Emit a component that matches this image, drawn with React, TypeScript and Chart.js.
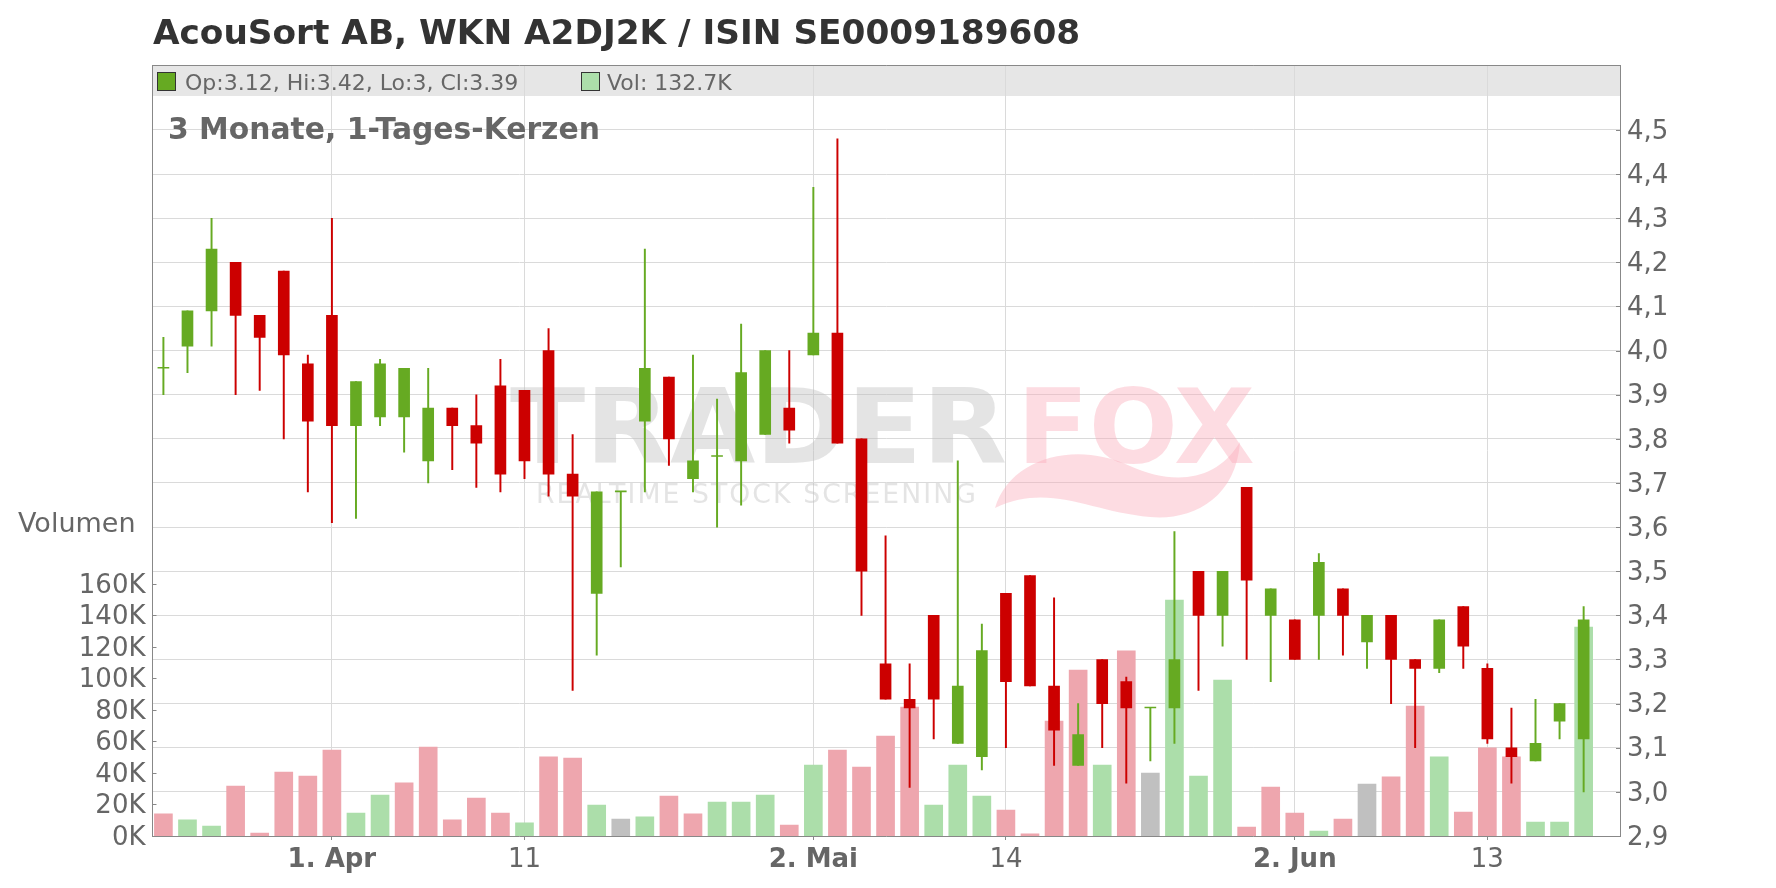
import React, { useEffect, useRef } from 'react';
import { Chart, registerables } from 'chart.js';

Chart.register(...registerables);

const FONT = '"DejaVu Sans", sans-serif';

const titleText = 'AcouSort AB, WKN A2DJ2K / ISIN SE0009189608';
const subtitleText = '3 Monate, 1-Tages-Kerzen';
const volumeAxisLabel = 'Volumen';

// daily candles (EUR)
const opens = [
  3.96, 4.01, 4.09, 4.20, 4.08, 4.18, 3.97, 4.08, 3.83, 3.85,
  3.85, 3.75, 3.87, 3.83, 3.92, 3.91, 4.00, 3.72, 3.45, 3.68,
  3.84, 3.94, 3.71, 3.76, 3.75, 3.81, 3.87, 3.99, 4.04, 3.80,
  3.29, 3.21, 3.40, 3.11, 3.08, 3.45, 3.49, 3.24, 3.06, 3.30,
  3.25, 3.19, 3.19, 3.50, 3.40, 3.69, 3.40, 3.39, 3.40, 3.46,
  3.34, 3.40, 3.30, 3.28, 3.42, 3.28, 3.10, 3.07, 3.16, 3.12,
];
const highs = [
  4.03, 4.09, 4.30, 4.20, 4.08, 4.18, 3.99, 4.30, 3.93, 3.98,
  3.96, 3.96, 3.87, 3.90, 3.98, 3.91, 4.05, 3.81, 3.68, 3.68,
  4.23, 3.94, 3.99, 3.89, 4.06, 4.00, 4.00, 4.37, 4.48, 3.80,
  3.58, 3.29, 3.40, 3.75, 3.38, 3.45, 3.49, 3.44, 3.20, 3.30,
  3.26, 3.19, 3.59, 3.50, 3.50, 3.69, 3.46, 3.39, 3.54, 3.46,
  3.40, 3.40, 3.30, 3.39, 3.42, 3.29, 3.19, 3.21, 3.20, 3.42,
];
const lows = [
  3.90, 3.95, 4.01, 3.90, 3.91, 3.80, 3.68, 3.61, 3.62, 3.83,
  3.77, 3.70, 3.73, 3.69, 3.68, 3.71, 3.67, 3.23, 3.31, 3.51,
  3.68, 3.74, 3.68, 3.60, 3.65, 3.81, 3.79, 3.99, 3.79, 3.40,
  3.21, 3.01, 3.12, 3.11, 3.05, 3.10, 3.24, 3.06, 3.06, 3.10,
  3.02, 3.07, 3.11, 3.23, 3.33, 3.30, 3.25, 3.30, 3.30, 3.31,
  3.28, 3.20, 3.10, 3.27, 3.28, 3.11, 3.02, 3.07, 3.12, 3.00,
];
const closes = [
  3.96, 4.09, 4.23, 4.08, 4.03, 3.99, 3.84, 3.83, 3.93, 3.97,
  3.96, 3.87, 3.83, 3.79, 3.72, 3.75, 3.72, 3.67, 3.68, 3.68,
  3.96, 3.80, 3.75, 3.76, 3.95, 4.00, 3.82, 4.04, 3.79, 3.50,
  3.21, 3.19, 3.21, 3.24, 3.32, 3.25, 3.24, 3.14, 3.13, 3.20,
  3.19, 3.19, 3.30, 3.40, 3.50, 3.48, 3.46, 3.30, 3.52, 3.40,
  3.40, 3.30, 3.28, 3.39, 3.33, 3.12, 3.08, 3.11, 3.20, 3.39,
];
// volume in thousands
const volumes = [
  14.0, 10.2, 6.3, 31.7, 1.9, 40.6, 38.1, 54.6, 14.6, 26.0,
  33.7, 56.5, 10.2, 24.1, 14.6, 8.3, 50.2, 49.5, 19.7, 10.8,
  12.1, 25.4, 14.0, 21.6, 21.6, 26.0, 7.0, 45.1, 54.6, 43.8,
  63.5, 81.9, 19.7, 45.1, 25.4, 16.5, 1.3, 73.0, 105.4, 45.1,
  117.5, 40.0, 149.8, 38.1, 99.0, 5.7, 31.1, 14.6, 3.2, 10.8,
  33.0, 37.5, 82.5, 50.2, 15.2, 55.9, 50.2, 8.9, 8.9, 132.7,
];
const closeBeforeFirst = 3.98;

const xTickIndex = [7, 15, 27, 35, 47, 55];
const xTickLabels = ['1. Apr', '11', '2. Mai', '14', '2. Jun', '13'];
const xTickBold = [true, false, true, false, true, false];
const priceTicks = [2.9, 3.0, 3.1, 3.2, 3.3, 3.4, 3.5, 3.6, 3.7, 3.8, 3.9, 4.0, 4.1, 4.2, 4.3, 4.4, 4.5];
const volumeTicks = [0, 20, 40, 60, 80, 100, 120, 140, 160];

const GREEN = '#66aa22';
const RED = '#cc0000';
const VOL_GREEN = '#acdeaa';
const VOL_RED = '#eea6ae';
const VOL_GRAY = '#c0c0c0';
const GRID = '#dadada';
const AXIS = '#888888';

function fitText(ctx: CanvasRenderingContext2D, text: string, x: number, y: number, width: number) {
  const w = ctx.measureText(text).width;
  ctx.save();
  ctx.translate(x, y);
  ctx.scale(width / w, 1);
  ctx.fillText(text, 0, 0);
  ctx.restore();
}

const decorPlugin = {
  id: 'decor',
  beforeDraw(chart: any) {
    const { ctx, chartArea: a } = chart;
    ctx.save();
    ctx.fillStyle = '#ffffff';
    ctx.fillRect(0, 0, chart.width, chart.height);
    ctx.fillStyle = '#e6e6e6';
    ctx.fillRect(a.left, a.top, a.right - a.left, 31);
    ctx.restore();
  },
  beforeDatasetsDraw(chart: any) {
    const { ctx } = chart;
    ctx.save();
    ctx.textBaseline = 'alphabetic';
    ctx.textAlign = 'left';
    ctx.font = `bold 103px ${FONT}`;
    ctx.fillStyle = 'rgba(190,190,190,0.42)';
    fitText(ctx, 'TRADER', 510, 463, 497);
    ctx.fillStyle = 'rgba(250,170,185,0.41)';
    fitText(ctx, 'FOX', 1017, 463, 238);
    // fox tail
    ctx.beginPath();
    ctx.moveTo(995, 508);
    ctx.bezierCurveTo(1010, 458, 1075, 440, 1130, 466);
    ctx.bezierCurveTo(1170, 484, 1215, 484, 1240, 442);
    ctx.bezierCurveTo(1236, 500, 1190, 521, 1150, 517);
    ctx.bezierCurveTo(1090, 512, 1050, 482, 995, 508);
    ctx.fill();
    ctx.font = `26px ${FONT}`;
    ctx.fillStyle = 'rgba(190,190,190,0.42)';
    (ctx as any).letterSpacing = '2px';
    fitText(ctx, 'REALTIME STOCK SCREENING', 536, 503, 442);
    ctx.restore();
  },
  afterDraw(chart: any) {
    const { ctx, chartArea: a } = chart;
    ctx.save();
    // frame
    ctx.strokeStyle = AXIS;
    ctx.lineWidth = 1;
    ctx.beginPath();
    ctx.moveTo(a.left, a.top + 0.5);
    ctx.lineTo(a.right, a.top + 0.5);
    ctx.moveTo(a.left, a.bottom + 0.5);
    ctx.lineTo(a.right + 0.5, a.bottom + 0.5);
    ctx.moveTo(a.left, a.top);
    ctx.lineTo(a.left, a.bottom + 1);
    ctx.moveTo(a.right + 0.5, a.top);
    ctx.lineTo(a.right + 0.5, a.bottom + 1);
    // inner ticks
    const yS = chart.scales.y;
    priceTicks.forEach((v) => {
      const py = Math.round(yS.getPixelForValue(v)) + 0.5;
      ctx.moveTo(a.right - 4, py);
      ctx.lineTo(a.right, py);
    });
    const vS = chart.scales.yv;
    volumeTicks.forEach((v) => {
      const py = Math.round(vS.getPixelForValue(v)) + 0.5;
      ctx.moveTo(a.left, py);
      ctx.lineTo(a.left + 4, py);
    });
    ctx.stroke();

    // title
    ctx.fillStyle = '#333333';
    ctx.font = `bold 34.3px ${FONT}`;
    ctx.textAlign = 'left';
    ctx.textBaseline = 'alphabetic';
    ctx.fillText(titleText, 153, 44);

    // subtitle
    ctx.fillStyle = '#666666';
    ctx.font = `bold 29.8px ${FONT}`;
    ctx.fillText(subtitleText, 168, 139);

    // legend row
    const n = closes.length - 1;
    ctx.font = `22px ${FONT}`;
    ctx.fillStyle = '#666666';
    ctx.fillText(`Op:${opens[n]}, Hi:${highs[n]}, Lo:${lows[n]}, Cl:${closes[n]}`, 185, 90);
    ctx.fillText(`Vol: ${volumes[n]}K`, 607, 90);
    ctx.strokeStyle = '#333333';
    ctx.fillStyle = GREEN;
    ctx.fillRect(157.5, 72.5, 18, 18);
    ctx.strokeRect(157.5, 72.5, 18, 18);
    ctx.fillStyle = VOL_GREEN;
    ctx.fillRect(581.5, 72.5, 18, 18);
    ctx.strokeRect(581.5, 72.5, 18, 18);

    // volume axis title
    ctx.fillStyle = '#666666';
    ctx.font = `27px ${FONT}`;
    ctx.fillText(volumeAxisLabel, 18, 532);
    ctx.restore();
  },
};

export default function App() {
  const ref = useRef<HTMLCanvasElement | null>(null);

  useEffect(() => {
    if (!ref.current) return;
    const idx = closes.map((_, i) => i);
    const up = idx.map((i) => closes[i] >= opens[i]);
    const candleColors = up.map((u) => (u ? GREEN : RED));
    const volColors = idx.map((i) => {
      const prev = i === 0 ? closeBeforeFirst : closes[i - 1];
      if (closes[i] > prev) return VOL_GREEN;
      if (closes[i] < prev) return VOL_RED;
      return VOL_GRAY;
    });

    const chart = new Chart(ref.current, {
      type: 'bar',
      data: {
        datasets: [
          {
            label: 'bodies',
            data: idx.map((i) => ({ x: i, y: [Math.min(opens[i], closes[i]), Math.max(opens[i], closes[i])] })) as any,
            backgroundColor: candleColors,
            barThickness: 11,
            minBarLength: 1,
            grouped: false,
            yAxisID: 'y',
            order: 1,
          } as any,
          {
            label: 'wicks',
            data: idx.map((i) => ({ x: i, y: [lows[i], highs[i]] })) as any,
            backgroundColor: candleColors,
            barThickness: 1.3,
            grouped: false,
            yAxisID: 'y',
            order: 2,
          } as any,
          {
            label: 'volume',
            data: idx.map((i) => ({ x: i, y: volumes[i] })) as any,
            backgroundColor: volColors,
            barThickness: 18,
            grouped: false,
            yAxisID: 'yv',
            order: 3,
          } as any,
        ],
      },
      options: {
        animation: false,
        responsive: false,
        devicePixelRatio: 1,
        layout: { padding: { top: 65, left: 0, right: 0, bottom: 0 } },
        plugins: {
          legend: { display: false },
          tooltip: { enabled: false },
          title: { display: false },
        },
        scales: {
          x: {
            type: 'linear',
            offset: false,
            min: -0.453,
            max: 60.51,
            afterBuildTicks: (s: any) => {
              s.ticks = xTickIndex.map((v) => ({ value: v }));
            },
            afterFit: (s: any) => {
              s.height = 52;
            },
            border: { display: false },
            grid: { color: GRID, tickColor: AXIS, tickLength: 4, drawTicks: true, offset: false },
            ticks: {
              autoSkip: false,
              maxRotation: 0,
              padding: 5,
              color: '#666666',
              callback: (v: any) => {
                const k = xTickIndex.indexOf(Number(v));
                return k >= 0 ? xTickLabels[k] : '';
              },
              font: (c: any) => {
                const k = xTickIndex.indexOf(c.tick ? c.tick.value : -1);
                return { family: FONT, size: 26, weight: k >= 0 && xTickBold[k] ? 'bold' : 'normal' };
              },
            },
          } as any,
          y: {
            type: 'linear',
            position: 'right',
            min: 2.9,
            max: 4.6473,
            afterBuildTicks: (s: any) => {
              s.ticks = priceTicks.map((v) => ({ value: v }));
            },
            afterFit: (s: any) => {
              s.width = 156;
            },
            border: { display: false },
            grid: { color: GRID, drawTicks: false },
            ticks: {
              padding: 7,
              labelOffset: 2,
              color: '#666666',
              font: { family: FONT, size: 26 },
              callback: (v: any) => Number(v).toFixed(1).replace('.', ','),
            },
          } as any,
          yv: {
            type: 'linear',
            position: 'left',
            min: 0,
            max: 489.5,
            afterBuildTicks: (s: any) => {
              s.ticks = volumeTicks.map((v) => ({ value: v }));
            },
            afterFit: (s: any) => {
              s.width = 152.5;
            },
            border: { display: false },
            grid: { display: false, drawTicks: false },
            ticks: {
              padding: 7,
              labelOffset: 2,
              color: '#666666',
              font: { family: FONT, size: 26 },
              callback: (v: any) => `${v}K`,
            },
          } as any,
        },
      },
      plugins: [decorPlugin as any],
    });
    return () => chart.destroy();
  }, []);

  return (
    <div style={{ position: 'fixed', left: 0, top: 0, width: 1776, height: 888, background: '#fff' }}>
      <canvas ref={ref} width={1776} height={888} style={{ display: 'block' }} />
    </div>
  );
}
